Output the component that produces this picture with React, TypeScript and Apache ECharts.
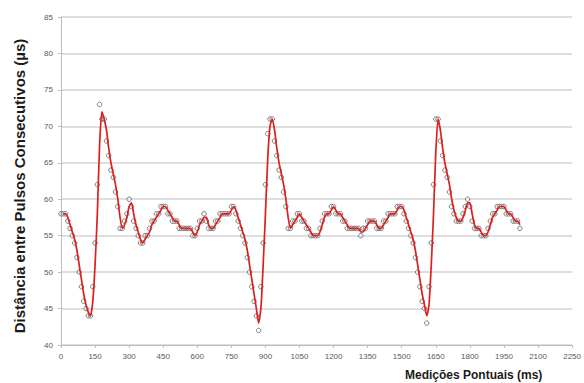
import React, { useEffect, useRef } from "react";
import * as echarts from "echarts";

// Sampling step of the measurements (ms)
const STEP_MS = 10;

// Measured distance between consecutive pulses (µs), one value per sample
const pulseValues: number[] = [
  58, 58, 58, 57, 56, 55, 54, 52, 50, 48, 46, 45, 44, 44, 48, 54, 62, 73, 71, 71,
  68, 66, 64, 63, 61, 59, 56, 56, 57, 58, 60, 59, 57, 56, 55, 54, 54, 55, 55, 56,
  57, 57, 58, 58, 59, 59, 59, 58, 58, 57, 57, 57, 56, 56, 56, 56, 56, 56, 55, 55,
  56, 57, 57, 58, 57, 56, 56, 56, 57, 57, 58, 58, 58, 58, 58, 59, 59, 58, 57, 56,
  55, 54, 52, 50, 48, 46, 44, 42, 48, 54, 62, 69, 71, 71, 68, 66, 64, 63, 61, 59,
  56, 56, 57, 57, 58, 58, 57, 57, 56, 56, 55, 55, 55, 55, 56, 57, 58, 58, 58, 59,
  59, 58, 58, 58, 57, 57, 56, 56, 56, 56, 56, 56, 55, 56, 56, 57, 57, 57, 57, 56,
  56, 56, 57, 57, 58, 58, 58, 58, 59, 59, 59, 58, 57, 56, 55, 54, 52, 50, 48, 46,
  45, 43, 48, 54, 62, 71, 71, 68, 66, 64, 63, 61, 59, 58, 57, 57, 57, 58, 59, 60,
  59, 57, 56, 56, 56, 55, 55, 55, 56, 57, 58, 58, 59, 59, 59, 59, 58, 58, 58, 57,
  57, 57, 56,
];

const xTicks = { min: 0, max: 2250, interval: 150 };
const yTicks = { min: 40, max: 85, interval: 5 };

const xTitle = "Medições Pontuais (ms)";
const yTitle = "Distância entre Pulsos Consecutivos (µs)";

// moving-average period used for the trend line
const MA_PERIOD = 2;

export default function App() {
  const ref = useRef<HTMLDivElement>(null);

  useEffect(() => {
    document.body.style.margin = "0";
    if (!ref.current) return;
    const chart = echarts.init(ref.current, null, { renderer: "svg" });

    const points = pulseValues.map((v, i) => [i * STEP_MS, v]);
    const trend: number[][] = [];
    for (let i = MA_PERIOD - 1; i < pulseValues.length; i++) {
      let s = 0;
      for (let k = 0; k < MA_PERIOD; k++) s += pulseValues[i - k];
      trend.push([i * STEP_MS, s / MA_PERIOD]);
    }

    const font = "'Liberation Sans', Arial, sans-serif";

    chart.setOption({
      animation: false,
      backgroundColor: "#ffffff",
      grid: { left: 61, right: 7, top: 17, bottom: 38, containLabel: false },
      xAxis: {
        type: "value",
        min: xTicks.min,
        max: xTicks.max,
        interval: xTicks.interval,
        axisLine: { show: true, lineStyle: { color: "#bdbdbd", width: 1 } },
        axisTick: { show: true, length: 3, lineStyle: { color: "#bdbdbd" } },
        splitLine: { show: false },
        axisLabel: {
          fontSize: 8,
          color: "#595959",
          margin: 7,
          fontFamily: font,
          formatter: (v: number) => String(v),
        },
      },
      yAxis: {
        type: "value",
        min: yTicks.min,
        max: yTicks.max,
        interval: yTicks.interval,
        axisLine: { show: true, lineStyle: { color: "#bdbdbd", width: 1 } },
        axisTick: { show: true, length: 3, lineStyle: { color: "#bdbdbd" } },
        splitLine: { show: true, lineStyle: { color: "#d3d3d3", width: 1.5 } },
        axisLabel: { fontSize: 8, color: "#595959", margin: 8, fontFamily: font },
      },
      graphic: [
        {
          type: "text",
          x: 19,
          y: 186,
          rotation: Math.PI / 2,
          style: {
            text: yTitle,
            font: `bold 15px ${font}`,
            fill: "#1a1a1a",
            textAlign: "center",
            textVerticalAlign: "middle",
          },
        },
        {
          type: "text",
          left: 405,
          top: 369,
          style: {
            text: xTitle,
            font: `bold 12px ${font}`,
            fill: "#1a1a1a",
          },
        },
      ],
      series: [
        {
          type: "scatter",
          data: points,
          symbol: "circle",
          symbolSize: 4.5,
          itemStyle: { color: "rgba(255,255,255,0.6)", borderColor: "#505050", borderWidth: 0.9 },
          z: 2,
        },
        {
          type: "line",
          data: trend,
          showSymbol: false,
          smooth: 0.2,
          lineStyle: { color: "#dc1f1f", width: 1.7 },
          z: 3,
        },
      ],
    });

    return () => chart.dispose();
  }, []);

  return <div ref={ref} style={{ width: 584, height: 383 }} />;
}
